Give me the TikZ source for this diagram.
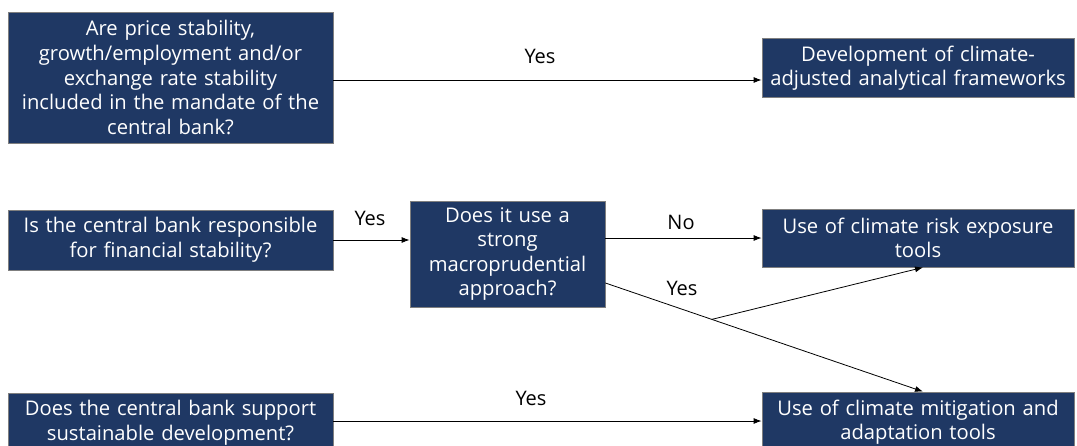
\documentclass[tikz,border=0pt]{standalone}
\usepackage{fontspec}
\setmainfont{Open Sans}
\usetikzlibrary{arrows.meta,calc}
\definecolor{boxblue}{HTML}{1F3864}
\definecolor{boxedge}{HTML}{7F7F7F}
\tikzset{
  qbox/.style={draw=boxedge, line width=0.8pt, fill=boxblue, text=white, align=center,
    inner sep=1pt, font=\fontsize{20.2}{24.6}\selectfont},
  arr/.style={draw=black, line width=0.8pt, -{Latex[length=8pt,width=6pt]}},
  lbl/.style={font=\fontsize{20}{24}\selectfont, text=black},
}
\begin{document}
\begin{tikzpicture}[x=1pt,y=-1pt]
\clip (0,0) rectangle (1077,445);
\fill[white] (0,0) rectangle (1077,445);
\node[qbox, minimum width=325pt, minimum height=131pt, text width=323pt] (b1) at (170.5,77.5)
  {Are price stability,\\ growth/employment and/or\\ exchange rate stability\\ included in the mandate of the\\ central bank?};
\node[qbox, minimum width=312pt, minimum height=59pt, text width=310pt] (b2) at (918,68)
  {Development of climate-\\ adjusted analytical frameworks};
\node[qbox, minimum width=325pt, minimum height=60pt, text width=323pt] (b3) at (170.5,240)
  {Is the central bank responsible\\ for financial stability?};
\node[qbox, minimum width=195pt, minimum height=106pt, text width=193pt] (b4) at (507.5,254)
  {Does it use a\\ strong\\ macroprudential\\ approach?};
\node[qbox, minimum width=312pt, minimum height=58pt, text width=310pt] (b5) at (918,238)
  {Use of climate risk exposure\\ tools};
\node[qbox, minimum width=312pt, minimum height=60pt, text width=310pt] (b6) at (918,422)
  {Use of climate mitigation and\\ adaptation tools};
\node[qbox, minimum width=325pt, minimum height=60pt, text width=323pt] (b7) at (170.5,423)
  {Does the central bank support\\ sustainable development?};

\draw[arr] (b1.east |- 0,80) -- (b2.west |- 0,80);
\node[lbl] (l1) at (540,56) {Yes};
\draw[arr] (b3.east) -- (b4.west |- b3.east);
\node[lbl] (l2) at (370,218) {Yes};
\draw[arr] (b4.east |- 0,238) -- (b5.west |- 0,238);
\node[lbl] (l3) at (681,222) {No};
\coordinate (d0) at (b4.east |- 0,283);
\coordinate (d1) at ($(b6.north)+(5,0)$);
\draw[arr] (d0) -- (d1);
\coordinate (br) at ($(d0)!0.335!(d1)$);
\draw[arr] (br) -- ($(b5.south)+(5,0)$);
\node[lbl] (l4) at (682,288) {Yes};
\draw[arr] (b7.east |- 0,421) -- (b6.west |- 0,421);
\node[lbl] (l5) at (531,398) {Yes};
\end{tikzpicture}
\end{document}
